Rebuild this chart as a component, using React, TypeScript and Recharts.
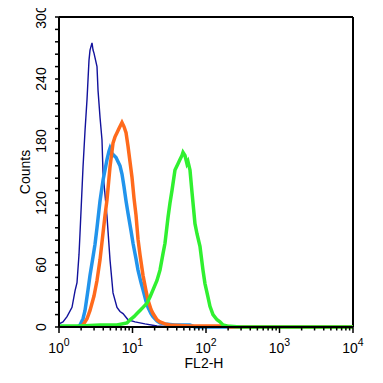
import React from 'react';
import { LineChart, Line, XAxis, YAxis, ReferenceLine } from 'recharts';

// x values are decades of FL2-H (log10), y values are counts
const blankControl: [number, number][] = [
  [0.0, 3], [0.054, 5], [0.109, 10], [0.177, 19], [0.218, 35], [0.245, 43], [0.272, 70], [0.286, 91],
  [0.327, 155], [0.354, 190], [0.381, 220], [0.408, 258], [0.422, 268], [0.449, 275], [0.463, 268],
  [0.476, 265], [0.517, 252], [0.531, 229], [0.558, 203], [0.585, 181], [0.599, 149], [0.626, 128],
  [0.653, 107], [0.694, 65], [0.735, 33], [0.789, 19], [0.83, 15], [0.871, 13], [0.939, 7], [1.034, 5],
  [1.17, 3], [1.333, 1], [1.51, 0], [4.0, 0],
];

const isotypeControl: [number, number][] = [
  [0.259, 0], [0.286, 2], [0.327, 8], [0.354, 16], [0.395, 36], [0.422, 50], [0.463, 68], [0.49, 80],
  [0.517, 96], [0.558, 122], [0.599, 142], [0.626, 152], [0.653, 162], [0.68, 170], [0.694, 173],
  [0.721, 168], [0.748, 166], [0.776, 164], [0.803, 160], [0.83, 156], [0.857, 148], [0.884, 136],
  [0.912, 122], [0.939, 110], [0.98, 93], [1.007, 81], [1.048, 66], [1.075, 55], [1.116, 43],
  [1.143, 36], [1.184, 25], [1.211, 19], [1.252, 13], [1.279, 10], [1.333, 6], [1.374, 4], [1.442, 3],
  [1.578, 2], [1.782, 2], [1.85, 0], [4.0, 0],
];

const secondaryControl: [number, number][] = [
  [0.286, 0], [0.327, 2], [0.381, 8], [0.422, 16], [0.476, 30], [0.517, 45], [0.558, 65], [0.599, 91],
  [0.626, 108], [0.653, 123], [0.694, 155], [0.735, 178], [0.762, 184], [0.789, 188], [0.816, 192],
  [0.857, 198], [0.884, 194], [0.912, 188], [0.939, 175], [0.966, 160], [0.993, 145], [1.02, 125],
  [1.048, 108], [1.075, 85], [1.102, 70], [1.143, 50], [1.184, 35], [1.211, 26], [1.252, 17],
  [1.279, 13], [1.333, 7], [1.374, 5], [1.442, 3], [1.51, 2], [1.782, 1], [2.259, 1], [2.327, 0], [4.0, 0],
];

const antibodyStained: [number, number][] = [
  [0.0, 1], [0.286, 1], [0.558, 2], [0.789, 2], [0.925, 4], [0.966, 7], [1.02, 10], [1.061, 13],
  [1.102, 16], [1.143, 19], [1.197, 23], [1.238, 29], [1.279, 36], [1.333, 45], [1.374, 55],
  [1.415, 71], [1.442, 81], [1.483, 106], [1.51, 120], [1.537, 132], [1.578, 152], [1.619, 158],
  [1.646, 162], [1.673, 166], [1.687, 169], [1.714, 166], [1.741, 158], [1.755, 160], [1.782, 152],
  [1.81, 130], [1.85, 100], [1.878, 90], [1.918, 78], [1.959, 55], [1.986, 42], [2.027, 29],
  [2.054, 20], [2.095, 12], [2.15, 7], [2.19, 5], [2.231, 2], [2.286, 1], [2.463, 0], [4.0, 0],
];

const decades = [0, 1, 2, 3, 4];
const minorMultipliers = [2, 3, 4, 5, 6, 7, 8, 9];
const countTicks = [0, 12, 24, 36, 48, 60, 72, 84, 96, 108, 120, 132, 144, 156, 168, 180, 192, 204, 216, 228, 240, 252, 264, 276, 288, 300];
const countLabels = [0, 60, 120, 180, 240, 300];

const xTicks: number[] = [];
decades.forEach((d) => {
  xTicks.push(d);
  if (d < 4) minorMultipliers.forEach((m) => xTicks.push(d + Math.log10(m)));
});

const toRows = (pts: [number, number][]) => pts.map(([x, y]) => ({ x, y }));

const FONT = '"Liberation Sans", Arial, Helvetica, sans-serif';

const XTick = (props: any) => {
  const { x, y, payload } = props;
  const v = payload.value;
  const isMajor = Math.abs(v - Math.round(v)) < 1e-6;
  return (
    <g>
      <line x1={x} x2={x} y1={y} y2={y + (isMajor ? 6 : 3.5)} stroke="#000" strokeWidth={1.5} />
      {isMajor && (
        <text x={x} y={y + 26} textAnchor="middle" fontFamily={FONT} fontSize={14} fill="#000">
          10
          <tspan dy={-7} fontSize={10.5}>{Math.round(v)}</tspan>
        </text>
      )}
    </g>
  );
};

const YTick = (props: any) => {
  const { x, y, payload } = props;
  const v = payload.value;
  if (!countLabels.includes(v)) return null;
  const bx = x - 9.5;
  return (
    <text
      x={bx}
      y={y}
      transform={`rotate(-90 ${bx} ${y})`}
      textAnchor="middle"
      fontFamily={FONT}
      fontSize={14}
      fill="#000"
    >
      {v}
    </text>
  );
};

const YTitle = (props: any) => {
  const vb = props.viewBox || { x: 0, y: 17, width: 59, height: 310 };
  const cx = vb.x + 30;
  const cy = vb.y + vb.height / 2;
  return (
    <text x={cx} y={cy} transform={`rotate(-90 ${cx} ${cy})`} textAnchor="middle" fontFamily={FONT} fontSize={14} fill="#000">
      Counts
    </text>
  );
};

const XTitle = (props: any) => {
  const vb = props.viewBox || { x: 59, y: 327, width: 294, height: 56 };
  return (
    <text x={vb.x + vb.width / 2 - 2} y={vb.y + 41} textAnchor="middle" fontFamily={FONT} fontSize={14} fill="#000">
      FL2-H
    </text>
  );
};

export default function App() {
  return (
    <div style={{ width: 383, height: 383, margin: '-8px 0 0 -8px', background: '#fff' }}>
      <LineChart width={383} height={383} margin={{ top: 17, right: 30, left: 0, bottom: 0 }}>
        <XAxis
          type="number"
          dataKey="x"
          domain={[0, 4]}
          ticks={xTicks}
          interval={0}
          tick={<XTick />}
          tickLine={false}
          tickSize={0}
          tickMargin={0}
          height={56}
          axisLine={{ stroke: '#000', strokeWidth: 2 }}
          label={<XTitle />}
        />
        <YAxis
          type="number"
          dataKey="y"
          domain={[0, 300]}
          ticks={countTicks}
          interval={0}
          width={59}
          tickSize={4}
          tickMargin={0}
          tickLine={{ stroke: '#000', strokeWidth: 1.5 }}
          tick={<YTick />}
          axisLine={{ stroke: '#000', strokeWidth: 2 }}
          label={<YTitle />}
        />
        <ReferenceLine y={300} stroke="#000" strokeWidth={2} />
        <ReferenceLine x={4} stroke="#000" strokeWidth={2} />
        <Line data={toRows(blankControl)} dataKey="y" type="linear" stroke="#12129c" strokeWidth={1.4} dot={false} isAnimationActive={false} />
        <Line data={toRows(isotypeControl)} dataKey="y" type="linear" stroke="#2194ec" strokeWidth={3.5} dot={false} isAnimationActive={false} />
        <Line data={toRows(secondaryControl)} dataKey="y" type="linear" stroke="#ff6a1c" strokeWidth={3.5} dot={false} isAnimationActive={false} />
        <Line data={toRows(antibodyStained)} dataKey="y" type="linear" stroke="#30f030" strokeWidth={3.5} dot={false} isAnimationActive={false} />
      </LineChart>
    </div>
  );
}
